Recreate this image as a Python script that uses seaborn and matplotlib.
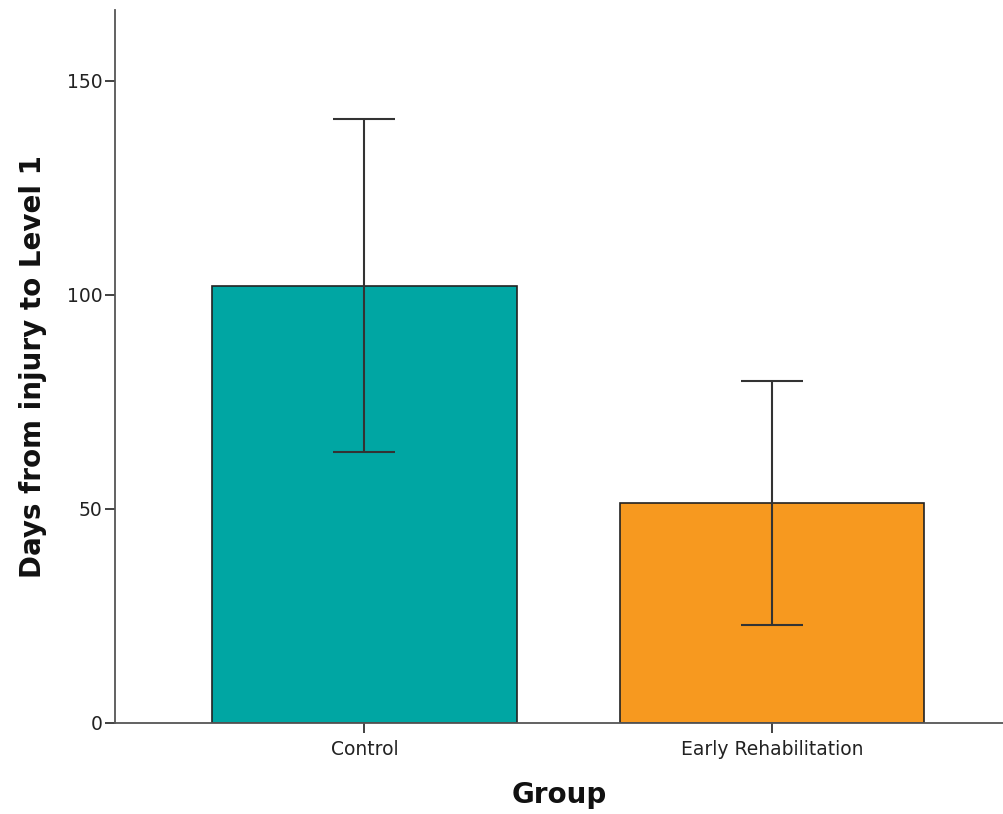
import numpy as np
import pandas as pd
import matplotlib
matplotlib.use("Agg")
import matplotlib.pyplot as plt
import seaborn as sns

# Data
groups = ["Control", "Early Rehabilitation"]
means = [102.1, 51.4]
err_low = [63.3, 22.9]
err_high = [141.1, 79.9]
bar_colors = ["#00A6A3", "#F7991F"]

df = pd.DataFrame({"Group": groups, "Days": means})

sns.set_style("white")
plt.rcParams["font.family"] = ["DejaVu Sans"]

fig = plt.figure(figsize=(10.04, 8.14), dpi=100)
ax = fig.add_axes([115 / 1004, 91 / 814, 889 / 1004, 713 / 814])

sns.barplot(data=df, x="Group", y="Days", hue="Group", palette=bar_colors,
            width=0.747, saturation=1, edgecolor="#222222", linewidth=1.2,
            legend=False, errorbar=None, ax=ax)

# Error bars
yerr = np.array([np.array(means) - np.array(err_low),
                 np.array(err_high) - np.array(means)])
ax.errorbar(range(len(groups)), means, yerr=yerr, fmt="none",
            ecolor="#333333", elinewidth=1.5, capsize=22.3, capthick=1.5)

ax.set_ylim(0, 166.5)
ax.set_xlim(-0.612, 1.57)
ax.set_yticks([0, 50, 100, 150])

sns.despine(ax=ax)
for s in ["left", "bottom"]:
    ax.spines[s].set_color("#555555")
    ax.spines[s].set_linewidth(1.3)

ax.tick_params(axis="both", direction="out", length=7, width=1.3,
               color="#333333", labelsize=13.5, labelcolor="#222222", left=True, bottom=True)
ax.tick_params(axis="x", pad=5)
ax.tick_params(axis="y", pad=2)

ax.set_xlabel("Group", fontsize=20, fontweight="bold", labelpad=16, color="#111111")
ax.set_ylabel("Days from injury to Level 1", fontsize=20, fontweight="bold", labelpad=14,
              color="#111111")

fig.savefig("out.png", dpi=100)
